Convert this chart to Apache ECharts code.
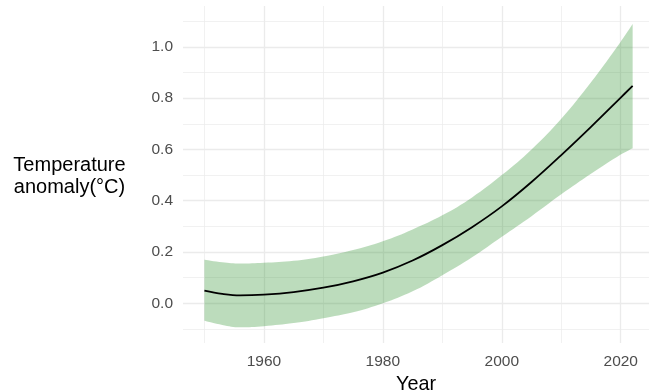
<!DOCTYPE html>
<html>
<head>
<meta charset="utf-8">
<script src="https://cdn.jsdelivr.net/npm/echarts@6/dist/echarts.min.js"></script>
<style>
  html, body { margin: 0; padding: 0; background: #ffffff; }
  #chart { width: 649px; height: 392px; }
</style>
</head>
<body>
<div id="chart"></div>
<script>
// Smoothed temperature anomaly with its confidence band
const years = [1950, 1953, 1956, 1960, 1965, 1970, 1975, 1980, 1985, 1990, 1995, 2000, 2005, 2010, 2015, 2020, 2022];
const fit   = [0.050, 0.037, 0.031, 0.034, 0.044, 0.061, 0.086, 0.120, 0.167, 0.227, 0.297, 0.378, 0.473, 0.578, 0.688, 0.802, 0.848];
const upper = [0.170, 0.160, 0.155, 0.158, 0.166, 0.183, 0.208, 0.242, 0.288, 0.343, 0.413, 0.500, 0.600, 0.720, 0.862, 1.020, 1.089];
const lower = [-0.068, -0.084, -0.093, -0.089, -0.077, -0.058, -0.035, 0.000, 0.047, 0.110, 0.180, 0.260, 0.340, 0.425, 0.505, 0.580, 0.605];

// Tick positions
const xTicks = [1960, 1980, 2000, 2020];
const xMinor = [1950, 1970, 1990, 2010];
const yTicks = [0, 0.2, 0.4, 0.6, 0.8, 1.0];
const yMinor = [-0.1, 0.1, 0.3, 0.5, 0.7, 0.9, 1.1];

const X_MIN = 1946.4, X_MAX = 2024.75;
const Y_MIN = -0.1545, Y_MAX = 1.159;

const gridColor = '#ebebeb';
const labelColor = '#4d4d4d';
const fontFamily = '"Liberation Sans", Arial, sans-serif';

const chart = echarts.init(document.getElementById('chart'), null, { renderer: 'canvas' });

const majorX = {
  type: 'value', min: X_MIN, max: X_MAX, position: 'bottom',
  axisLine: { show: false },
  axisTick: { show: false, customValues: xTicks },
  axisLabel: { customValues: xTicks, color: labelColor, fontSize: 15.5, fontFamily, margin: 11,
               formatter: v => String(v) },
  splitLine: { show: true, customValues: xTicks, lineStyle: { color: gridColor, width: 1.3 } },
  name: 'Year', nameLocation: 'middle', nameGap: 28,
  nameTextStyle: { color: '#000', fontSize: 19.8, fontFamily }
};
const minorX = {
  type: 'value', min: X_MIN, max: X_MAX, position: 'bottom',
  axisLine: { show: false },
  axisTick: { show: false, customValues: xMinor },
  axisLabel: { show: false, customValues: xMinor },
  splitLine: { show: true, customValues: xMinor, lineStyle: { color: gridColor, width: 0.7 } }
};
const majorY = {
  type: 'value', min: Y_MIN, max: Y_MAX, position: 'left',
  axisLine: { show: false },
  axisTick: { show: false, customValues: yTicks },
  axisLabel: { customValues: yTicks, color: labelColor, fontSize: 15.5, fontFamily, margin: 10,
               formatter: v => v.toFixed(1) },
  splitLine: { show: true, customValues: yTicks, lineStyle: { color: gridColor, width: 1.3 } }
};
const minorY = {
  type: 'value', min: Y_MIN, max: Y_MAX, position: 'left',
  axisLine: { show: false },
  axisTick: { show: false, customValues: yMinor },
  axisLabel: { show: false, customValues: yMinor },
  splitLine: { show: true, customValues: yMinor, lineStyle: { color: gridColor, width: 0.7 } }
};

// Band rows put the value first so the stack accumulates along y
const bandRows = arr => years.map((y, i) => [arr[i], y]);

chart.setOption({
  animation: false,
  backgroundColor: '#ffffff',
  grid: { left: 183, right: 0, top: 6, bottom: 49, outerBoundsMode: 'none', containLabel: false },
  xAxis: [majorX, minorX],
  yAxis: [majorY, minorY],
  graphic: [{
    type: 'text', x: 69.5, y: 176,
    style: {
      text: 'Temperature\nanomaly(°C)',
      align: 'center', verticalAlign: 'middle',
      fontSize: 20, lineHeight: 22, fontFamily, fill: '#000'
    }
  }],
  series: [
    {
      name: 'lower', type: 'line', stack: 'band', stackStrategy: 'all', smooth: 0.4,
      xAxisIndex: 0, yAxisIndex: 0, encode: { x: 1, y: 0 },
      data: bandRows(lower), symbol: 'none', silent: true,
      lineStyle: { width: 0, color: 'rgba(0,0,0,0)' }
    },
    {
      name: 'band', type: 'line', stack: 'band', stackStrategy: 'all', smooth: 0.4,
      xAxisIndex: 0, yAxisIndex: 0, encode: { x: 1, y: 0 },
      data: bandRows(upper.map((u, i) => u - lower[i])), symbol: 'none', silent: true,
      lineStyle: { width: 0, color: 'rgba(0,0,0,0)' },
      areaStyle: { color: 'rgba(34,139,34,0.3)', opacity: 1 }
    },
    {
      name: 'fit', type: 'line', smooth: 0.4,
      xAxisIndex: 0, yAxisIndex: 0,
      data: years.map((y, i) => [y, fit[i]]), symbol: 'none', silent: true,
      lineStyle: { color: '#000000', width: 1.8 }
    }
  ]
});
</script>
</body>
</html>
